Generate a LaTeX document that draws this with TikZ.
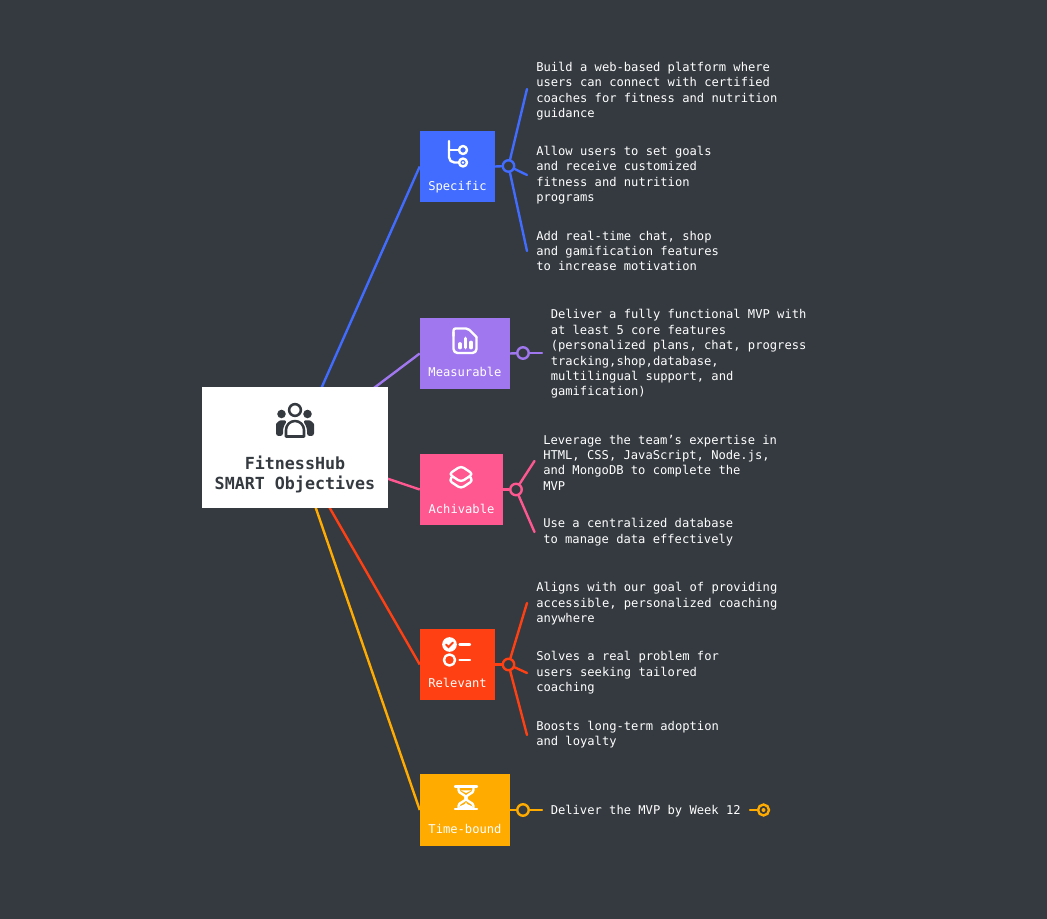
\documentclass[tikz,border=0pt]{standalone}
\usepackage{fontspec}
\setmonofont{DejaVu Sans Mono}
\usetikzlibrary{backgrounds}
\definecolor{slatebg}{HTML}{343A40}
\definecolor{specblue}{HTML}{416CFF}
\definecolor{measpurple}{HTML}{A177F0}
\definecolor{achpink}{HTML}{FF5790}
\definecolor{relred}{HTML}{FF4013}
\definecolor{timeamber}{HTML}{FFAB00}
\tikzset{
  itemtext/.style={anchor=west,align=left,inner sep=0pt,text=white,font=\ttfamily\fontsize{9.1}{11.55}\selectfont},
  boxlabel/.style={inner sep=0pt,text height=7pt,text depth=2pt,text=white,font=\ttfamily\fontsize{9.1}{11.55}\selectfont},
  smartbox/.style={inner sep=0pt,minimum height=53.25pt},
  hubdot/.style={circle,draw=#1,line width=1.8pt,fill=slatebg,minimum size=8.6pt,inner sep=0pt},
  wire/.style={line width=1.8pt,draw=#1,line cap=round},
  iconline/.style={line width=1.8pt,draw=white,line cap=round,line join=round}
}
\begin{document}
\begin{tikzpicture}[x=0.75pt,y=-0.75pt]
\useasboundingbox (0,0) rectangle (1047,919);
\begin{pgfonlayer}{background}
\fill[slatebg] (0,0) rectangle (1047,919);
\end{pgfonlayer}
\node[fill=white,inner sep=0pt,minimum width=139.5pt,minimum height=91pt] (root) at (295,447.5) {};
\node[inner sep=0pt,align=center,text=slatebg,font=\ttfamily\bfseries\fontsize{12.5}{15.2}\selectfont] (roottitle) at (295,474.5) {FitnessHub\\SMART Objectives};
\node[smartbox,fill=specblue,minimum width=56.25pt] (specific) at (457.5,166.5) {};
\node[smartbox,fill=measpurple,minimum width=67.5pt] (measurable) at (465,353.5) {};
\node[smartbox,fill=achpink,minimum width=62.25pt] (achivable) at (461.5,489.5) {};
\node[smartbox,fill=relred,minimum width=56.25pt] (relevant) at (457.5,664.5) {};
\node[smartbox,fill=timeamber,minimum width=67.5pt] (timebound) at (465,810) {};
\node[boxlabel] (specificlabel) at (457.5,186.7) {Specific};
\node[boxlabel] (measurablelabel) at (465,372.7) {Measurable};
\node[boxlabel] (achivablelabel) at (461.5,510) {Achivable};
\node[boxlabel] (relevantlabel) at (457.5,684.4) {Relevant};
\node[boxlabel] (timeboundlabel) at (465,830) {Time-bound};
\node[hubdot=specblue] (specifichub) at (508.5,166) {};
\node[hubdot=measpurple] (measurablehub) at (523,353) {};
\node[hubdot=achpink] (achivablehub) at (516,489.5) {};
\node[hubdot=relred] (relevanthub) at (508.5,664.5) {};
\node[hubdot=timeamber] (timeboundhub) at (523,810) {};
\coordinate (spectop) at (527,89);
\coordinate (specmid) at (527,175);
\coordinate (specbot) at (527,251);
\coordinate (measend) at (542,353);
\coordinate (achtop) at (534.5,461);
\coordinate (achbot) at (534.5,532);
\coordinate (reltop) at (527,603);
\coordinate (relmid) at (527,673);
\coordinate (relbot) at (527,735);
\coordinate (timeend) at (542,810);
\node[itemtext] (spectexta) at (536,91) {Build a web-based platform where\\users can connect with certified\\coaches for fitness and nutrition\\guidance};
\node[itemtext] (spectextb) at (536,175) {Allow users to set goals\\and receive customized\\fitness and nutrition\\programs};
\node[itemtext] (spectextc) at (536,251) {Add real-time chat, shop\\and gamification features\\to increase motivation};
\node[itemtext] (meastext) at (550.5,354) {Deliver a fully functional MVP with\\at least 5 core features\\(personalized plans, chat, progress\\tracking,shop,database,\\multilingual support, and\\gamification)};
\node[itemtext] (achtexta) at (543,462.5) {Leverage the team’s expertise in\\HTML, CSS, JavaScript, Node.js,\\and MongoDB to complete the\\MVP};
\node[itemtext] (achtextb) at (543,532) {Use a centralized database\\to manage data effectively};
\node[itemtext] (reltexta) at (536,604) {Aligns with our goal of providing\\accessible, personalized coaching\\anywhere};
\node[itemtext] (reltextb) at (536,673) {Solves a real problem for\\users seeking tailored\\coaching};
\node[itemtext] (reltextc) at (536,734.5) {Boosts long-term adoption\\and loyalty};
\node[itemtext] (timetext) at (550.5,811) {Deliver the MVP by Week 12};
\node[circle,draw=timeamber,line width=1.8pt,minimum size=8.2pt,inner sep=0pt] (timeknob) at (763.5,810) {};
\fill[timeamber] (timeknob.center) circle (1.5pt);
\coordinate (timetail) at (750,810);
\draw[wire=timeamber] (timetail) -- (timeknob);
\begin{pgfonlayer}{background}
\draw[wire=specblue,line cap=butt] (root.center) -- (specific.west);
\draw[wire=measpurple,line cap=butt] (root.center) -- (measurable.west);
\draw[wire=achpink,line cap=butt] (root.center) -- (achivable.west);
\draw[wire=relred,line cap=butt] (root.center) -- (relevant.west);
\draw[wire=timeamber,line cap=butt] (root.center) -- (timebound.west);
\end{pgfonlayer}
\draw[wire=specblue] (specific.east) -- (specifichub);
\draw[wire=specblue] (specifichub) -- (spectop);
\draw[wire=specblue] (specifichub) -- (specmid);
\draw[wire=specblue] (specifichub) -- (specbot);
\draw[wire=measpurple] (measurable.east) -- (measurablehub);
\draw[wire=measpurple] (measurablehub) -- (measend);
\draw[wire=achpink] (achivable.east) -- (achivablehub);
\draw[wire=achpink] (achivablehub) -- (achtop);
\draw[wire=achpink] (achivablehub) -- (achbot);
\draw[wire=relred] (relevant.east) -- (relevanthub);
\draw[wire=relred] (relevanthub) -- (reltop);
\draw[wire=relred] (relevanthub) -- (relmid);
\draw[wire=relred] (relevanthub) -- (relbot);
\draw[wire=timeamber] (timebound.east) -- (timeboundhub);
\draw[wire=timeamber] (timeboundhub) -- (timeend);
\draw[line width=1.9pt,draw=slatebg] (295,410) circle (4.4pt);
\fill[slatebg] (281.5,414) circle (3.2pt) (307.5,414) circle (3.2pt);
\fill[slatebg,rounded corners=2pt] (276,436) -- (276,427) to[out=90,in=180] (283,420.5) -- (287,420.5) -- (283,428) -- (283,436) -- cycle;
\fill[slatebg,rounded corners=2pt] (314,436) -- (314,427) to[out=90,in=0] (307,420.5) -- (303,420.5) -- (307,428) -- (307,436) -- cycle;
\draw[line width=1.9pt,draw=slatebg,line join=round] (286,436.5) -- (286,430) to[out=90,in=180] (295,421) to[out=0,in=90] (304,430) -- (304,436.5) -- cycle;
\draw[iconline,rounded corners=4pt] (449,141) -- (449,162.5) -- (459,162.5);
\draw[iconline] (449,150) -- (459,150);
\draw[iconline] (463,150) circle (3pt);
\draw[iconline] (463,162.5) circle (3pt);
\fill[white] (463,162.5) circle (1pt);
\draw[iconline,rounded corners=3pt] (453.5,332) -- (453.5,353) -- (476.5,353) -- (476.5,337);
\draw[iconline,rounded corners=1.5pt] (453.5,336) -- (453.5,328.5) -- (468,328.5) -- (476.5,337);
\draw[line width=2.8pt,draw=white,line cap=round] (460,344) -- (460,347.5) (465.5,338.5) -- (465.5,347.5) (471,342.5) -- (471,347.5);
\draw[iconline,rounded corners=2.5pt] (461,466) -- (473,474) -- (461,482) -- (449,474) -- cycle;
\draw[iconline,rounded corners=2.5pt] (452,477) -- (449,480.5) -- (461,488.5) -- (473,480.5) -- (470,477);
\fill[white] (449.5,644.5) circle (5.5pt);
\draw[line width=1.4pt,draw=relred,line cap=round] (446,644.5) -- (448.5,647) -- (453,642.5);
\draw[iconline] (449.5,660) circle (4.2pt);
\draw[iconline] (459.5,644.5) -- (470,644.5);
\draw[iconline] (459.5,660) -- (470,660);
\draw[iconline] (455,786.5) -- (477,786.5);
\draw[iconline] (455,809) -- (477,809);
\draw[iconline] (458.5,787) -- (458.5,790) to[out=-90,in=90] (465.8,798) to[out=-90,in=90] (458.5,806) -- (458.5,809);
\draw[iconline] (473.5,787) -- (473.5,790) to[out=-90,in=90] (466.2,798) to[out=-90,in=90] (473.5,806) -- (473.5,809);
\fill[white] (459,808) to[out=80,in=-90] (466,802) to[out=-90,in=100] (473,808) -- cycle;
\fill[white] (461,790.5) -- (471,790.5) -- (466,793) -- cycle;
\end{tikzpicture}
\end{document}
